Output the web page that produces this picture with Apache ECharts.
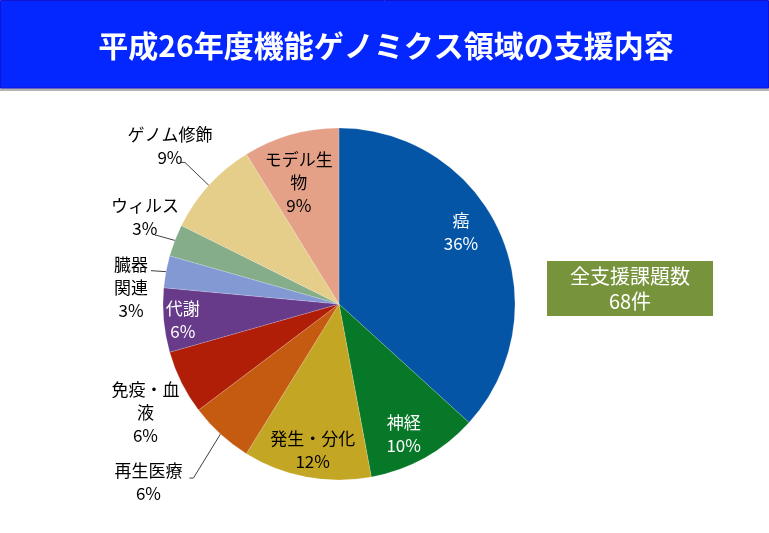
<!DOCTYPE html>
<html><head><meta charset="utf-8">
<script src="https://cdn.jsdelivr.net/npm/echarts@6/dist/echarts.min.js"></script>
<style>html,body{margin:0;padding:0;background:#fff}#c{width:769px;height:533px}</style>
</head><body><div id="c"></div>
<script>
// ---- data ----
const titleText = '平成26年度機能ゲノミクス領域の支援内容';
const categories = ['癌','神経','発生・分化','再生医療','免疫・血液','代謝','臓器関連','ウィルス','ゲノム修飾','モデル生物'];
const labelNames = ['癌','神経','発生・分化','再生医療','免疫・血\n液','代謝','臓器\n関連','ウィルス','ゲノム修飾','モデル生\n物'];
const counts = [25,7,8,4,4,4,2,2,6,6];
const percents = [36,10,12,6,6,6,3,3,9,9];
const totalLabel = '全支援課題数';
const totalUnit = '件';

// ---- styles ----
const colors = ['#0455A5','#067828','#C4A625','#C55B11','#B01E07','#673A8A','#8399D3','#85AD89','#E4CE8A','#E5A188'];
const labelColors = ['#fff','#fff','#000','#000','#000','#fff','#000','#000','#000','#000'];
const FONT = '"Noto Sans CJK JP","Noto Sans",sans-serif';
const CX = 339, CY = 304, R = 176;
// label centre offsets, relative to the slice's outer mid point
const labelOffsets = [[-39,-1],[-21,-24],[6,-27],[-72,48],[-36,30],[19,0],[-35,16],[-30,-23],[-39,-39],[8,48]];
// leader line bends, relative to the slice's outer mid point
const leaderLines = {3: [[-27,44],[-31,44]], 6: [[-15,-1]], 7: [[-18,-5],[-20,-5]], 8: [[-24,-23],[-28,-23]]};

const total = counts.reduce((a,b)=>a+b,0);
function anchor(i){
  let before = 0; for (let k=0;k<i;k++) before += counts[k];
  const th = (before + counts[i]/2) / total * 2 * Math.PI;
  return [CX + R*Math.sin(th), CY - R*Math.cos(th)];
}

const data = categories.map((name,i)=>({
  name, value: counts[i],
  itemStyle: {color: colors[i]},
  label: {color: labelColors[i], formatter: labelNames[i] + '\n' + percents[i] + '%'},
  labelLine: {show: !!leaderLines[i]}
}));

const chart = echarts.init(document.getElementById('c'));
chart.setOption({
  animation: false,
  graphic: [
    {type:'rect', shape:{x:0,y:88,width:769,height:3}, style:{fill:'#B4B4B4'}, silent:true},
    {type:'rect', shape:{x:0.5,y:0.5,width:768,height:87.5}, style:{fill:'#0426FF', stroke:'#1212D2', lineWidth:1}, silent:true},
    {type:'text', x:386, y:46, style:{text:titleText, fill:'#fff', fontSize:30, fontWeight:'bold', fontFamily:FONT, align:'center', verticalAlign:'middle'}},
    {type:'rect', shape:{x:547,y:261,width:166,height:55}, style:{fill:'#77933C'}},
    {type:'text', x:630, y:289, style:{text: totalLabel + '\n' + total + totalUnit, fill:'#fff', fontSize:20, lineHeight:25, fontFamily:FONT, align:'center', verticalAlign:'middle'}}
  ],
  series: [{
    type: 'pie',
    center: [CX, CY],
    radius: R,
    startAngle: 90,
    clockwise: true,
    avoidLabelOverlap: false,
    itemStyle: {borderColor: 'rgba(255,255,255,0.35)', borderWidth: 0.5},
    label: {position: 'outside', fontSize: 17, lineHeight: 23, fontFamily: FONT},
    labelLine: {lineStyle: {color: '#404040', width: 1}},
    emphasis: {disabled: true},
    labelLayout: function(p){
      const i = p.dataIndex, a = anchor(i), o = labelOffsets[i];
      const res = {x: a[0]+o[0], y: a[1]+o[1], align: 'center', verticalAlign: 'middle'};
      if (leaderLines[i]) res.labelLinePoints = [a].concat(leaderLines[i].map(q=>[a[0]+q[0], a[1]+q[1]]));
      return res;
    },
    data
  }]
});
</script></body></html>
